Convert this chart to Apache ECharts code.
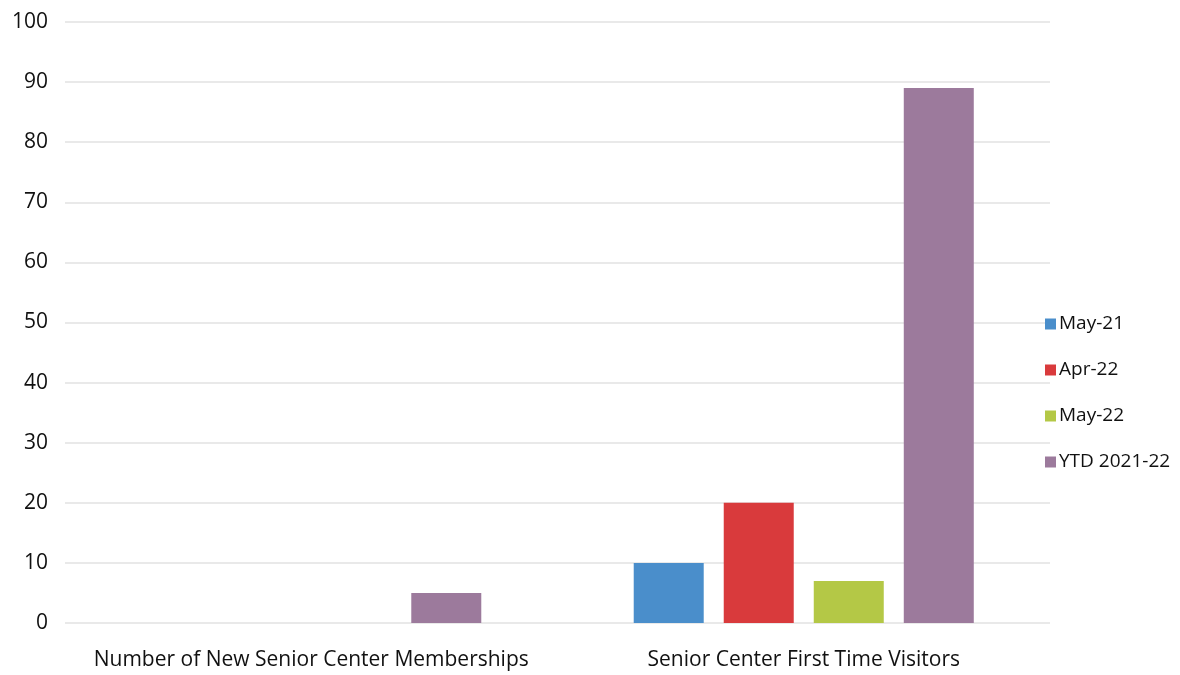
<!DOCTYPE html>
<html>
<head>
<meta charset="utf-8">
<script src="https://cdn.jsdelivr.net/npm/echarts@6/dist/echarts.min.js"></script>
<style>
  html, body { margin: 0; padding: 0; background: #ffffff; }
  #chart { width: 1180px; height: 675px; }
</style>
</head>
<body>
<div id="chart"></div>
<script>
// Categories and series values
const categories = ['Number of New Senior Center Memberships', 'Senior Center First Time Visitors'];
const seriesNames = ['May-21', 'Apr-22', 'May-22', 'YTD 2021-22'];
const may21 = [0, 10];
const apr22 = [0, 20];
const may22 = [0, 7];
const ytd2122 = [5, 89];
const yTicks = [0, 10, 20, 30, 40, 50, 60, 70, 80, 90, 100];

const colors = ['#4a8ecb', '#d93a3c', '#b4c846', '#9c7a9c'];
const values = [may21, apr22, may22, ytd2122];

const chart = echarts.init(document.getElementById('chart'));
chart.setOption({
  animation: false,
  textStyle: { fontFamily: 'Open Sans, Liberation Sans, sans-serif' },
  grid: { left: 65, right: 130, top: 22, bottom: 52 },
  legend: {
    orient: 'vertical',
    left: 1040,
    top: 306,
    itemWidth: 11,
    itemHeight: 11,
    itemGap: 20,
    icon: 'rect',
    data: seriesNames,
    textStyle: { fontSize: 19, color: '#111', padding: [0, 0, 0, -2], lineHeight: 26 }
  },
  xAxis: {
    type: 'category',
    data: categories,
    axisLine: { show: false },
    axisTick: { show: false },
    axisLabel: { interval: 0, fontSize: 21, color: '#111', margin: 27 }
  },
  yAxis: {
    type: 'value',
    min: yTicks[0],
    max: yTicks[yTicks.length - 1],
    interval: 10,
    axisLine: { show: false },
    axisTick: { show: false },
    axisLabel: { fontSize: 21, color: '#111', margin: 17 },
    splitLine: { lineStyle: { color: '#e2e2e2', width: 1.5 } }
  },
  series: seriesNames.map((name, i) => ({
    name: name,
    type: 'bar',
    data: values[i],
    barWidth: 70,
    barGap: '28.6%',
    itemStyle: { color: colors[i] }
  }))
});
</script>
</body>
</html>
